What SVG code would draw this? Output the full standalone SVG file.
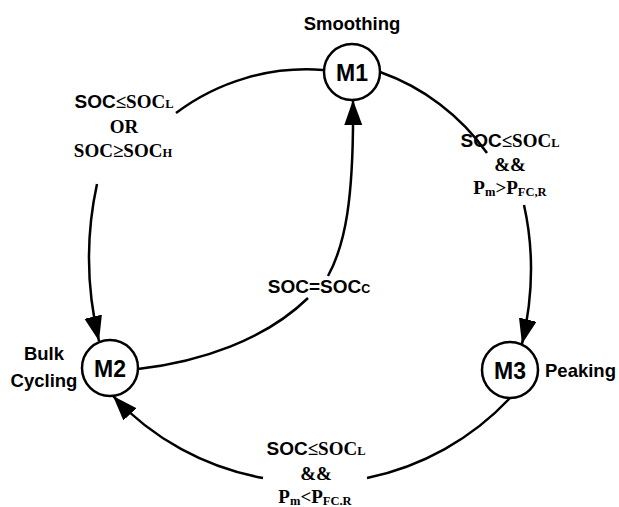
<svg xmlns="http://www.w3.org/2000/svg" width="619" height="507" viewBox="0 0 619 507">
<style>
.node circle{fill:#fff;stroke:#000;stroke-width:2.5}
.lbl{font-family:"Liberation Sans",Arial,sans-serif;font-weight:bold;fill:#000}
.mode{font-size:23px;text-anchor:middle}
.name{font-size:18.5px}
.edge{fill:none;stroke:#000;stroke-width:2.5;marker-end:url(#ah)}
.cond{font-weight:bold;font-size:19px;text-anchor:middle;fill:#000}
.sans{font-family:"Liberation Sans",Arial,sans-serif}
.serif{font-family:"Liberation Serif","Times New Roman",serif}
.sub{font-size:12.5px}
</style>
<defs>
<marker id="ah" markerUnits="userSpaceOnUse" markerWidth="27" markerHeight="20" refX="25" refY="9" orient="auto"><path d="M0,0 L25,9 L0,18 Z" fill="#000"/></marker>
</defs>
<rect width="619" height="507" fill="#fff"/>
<g id="connectors">
<path id="e-m1-m2" class="edge" d="M323,70 A217,217 0 0 0 176,113 M97,184 Q80,262 99,341"/>
<path id="e-m1-m3" class="edge" d="M380,72 A221,221 0 0 1 487,153 M524,205 Q539,272 522,344"/>
<path id="e-m3-m2" class="edge" d="M510,398 A270,270 0 0 1 367,478 M263,478 A270,270 0 0 1 113,396"/>
<path id="e-m2-m1" class="edge" d="M138,369 C200,362 265,340 308,298 M328,276 C345,245 354,200 353,100"/>
<text class="cond" x="124" y="108"><tspan class="sans">SOC</tspan><tspan class="serif">≤SOC</tspan><tspan class="serif sub">L</tspan></text>
<text class="cond serif" x="124" y="133">OR</text>
<text class="cond serif" x="123" y="157">SOC≥SOC<tspan class="sub">H</tspan></text>
<text class="cond" x="510" y="147"><tspan class="sans">SOC</tspan><tspan class="serif">≤SOC</tspan><tspan class="serif sub">L</tspan></text>
<text class="cond serif" x="510" y="171">&amp;&amp;</text>
<text class="cond serif" x="510" y="194">P<tspan class="sub" dy="2">m</tspan><tspan dy="-2">&gt;P</tspan><tspan class="sub" dy="2">FC,R</tspan></text>
<text class="cond sans" x="319" y="293">SOC=SOC<tspan class="sub">C</tspan></text>
<text class="cond" x="316" y="455"><tspan class="sans">SOC</tspan><tspan class="serif">≤SOC</tspan><tspan class="serif sub">L</tspan></text>
<text class="cond serif" x="316" y="480">&amp;&amp;</text>
<text class="cond serif" x="315" y="503">P<tspan class="sub" dy="2">m</tspan><tspan dy="-2">&lt;P</tspan><tspan class="sub" dy="2">FC.R</tspan></text>
</g>
<g id="M1" class="node">
<circle cx="352" cy="72" r="28"/>
<text class="lbl mode" x="352" y="80.5">M1</text>
<text class="lbl name" x="352" y="30" text-anchor="middle">Smoothing</text>
</g>
<g id="M2" class="node">
<circle cx="110" cy="368" r="28"/>
<text class="lbl mode" x="110" y="376.5">M2</text>
<text class="lbl name" x="44" y="360" text-anchor="middle">Bulk</text>
<text class="lbl name" x="44" y="387" text-anchor="middle">Cycling</text>
</g>
<g id="M3" class="node">
<circle cx="510" cy="370" r="28"/>
<text class="lbl mode" x="510" y="378.5">M3</text>
<text class="lbl name" x="545" y="377">Peaking</text>
</g>
</svg>
